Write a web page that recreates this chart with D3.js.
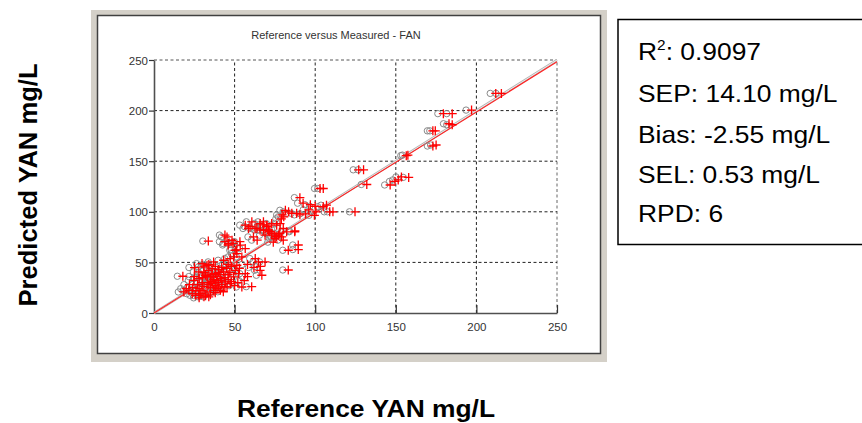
<!DOCTYPE html>
<html>
<head>
<meta charset="utf-8">
<script src="https://cdn.jsdelivr.net/npm/d3@7/dist/d3.min.js"></script>
<style>
  html, body { margin: 0; padding: 0; background: #ffffff; }
  svg { display: block; }
  text { font-family: Arial, "Liberation Sans", sans-serif; }
</style>
</head>
<body>
<svg id="chart" width="862" height="423"></svg>
<script>
// Reference (x) and predicted (y) YAN values, mg/L, one pair per sample
const refValues = [
  212, 215.5, 197, 179.5, 185, 183, 185, 173, 174.5, 173, 175, 156.5, 157.5, 127, 130, 132,
  146.5, 149.5, 151.5, 153.5, 158,
  103, 105, 90.5, 92.5, 97, 100, 107, 105, 100.5, 109, 111, 124.7, 99.5, 81.5, 83.5, 85.5,
  88.5, 90.5, 79.5, 80.5, 79, 87.3, 87.4, 83.3, 89.5, 89.5, 83.3, 94, 96,
  59.6, 62.7, 65.8, 67.8, 69.8, 70.8, 71.8, 72.9, 74.9, 76, 78, 80.2, 58.6, 61.7, 63.8, 65.8,
  67.9, 70, 71, 73, 75.1, 77.2, 79.2, 80.2, 82.3, 76.1, 73, 78.2, 67.9, 68.9, 60.7, 56.6, 64, 74,
  45.3, 48.4, 53.5, 46.3, 50.4, 56.6, 53.3, 49.1, 46, 44, 33.7, 51.3, 44,
  49.4, 47.3, 54.5, 62.8, 64.8, 65.8, 66.9, 56.6, 51.4, 43.2, 68.9, 60.6, 62, 58, 66,
  17.9, 18.5, 21.6, 23.7, 25.7, 27.8, 25.1, 27.8, 24.7, 30.9, 31.9, 34, 35, 36, 38.1, 39.1,
  40.1, 41.2, 43.2, 44.2, 45.3, 47.3, 49.4, 50.4, 51.4, 52.5, 54.5, 37, 32.9, 29.8, 41.2, 36,
  32.9, 29.8, 37,
  33, 35, 38, 40, 42, 44, 46, 39, 37, 34, 31, 28, 26, 30, 28, 36, 40, 42, 45, 48, 38, 43, 35,
  32, 29, 24, 22, 20, 27, 33, 41, 46, 48, 50, 52, 38, 34, 31, 39, 44, 36, 42, 47, 53, 56, 58,
  40, 46, 25, 30, 28, 31, 34
];
const predValues = [
  217, 217, 200.5, 197, 197, 187, 186, 180, 180, 165, 166, 155.5, 156, 141.5, 141.5, 127,
  126.5, 130, 131.5, 134.5, 134,
  123, 123, 114, 108.5, 107, 105.5, 106.5, 105, 100, 100, 100, 100, 96.5, 101.5, 100, 98.5,
  98.5, 97, 97, 95, 93, 80.3, 81.2, 62, 62.7, 67.2, 42.5, 98, 102,
  85.3, 83.6, 82, 87, 85.3, 82, 80.3, 78.7, 77, 75.4, 78.7, 72, 83.5, 75.2, 83.5, 88.4,
  90.1, 86.8, 81.8, 78.5, 73.6, 76.9, 75.2, 83.5, 80.2, 86.8, 88.4, 88.4, 81.8, 76.9, 90.1, 86.8, 72, 70,
  75.2, 71.9, 67, 68.6, 62, 63.7, 70.5, 68.8, 67.2, 70.5, 71.1, 62.3, 77,
  55.4, 53.8, 55.4, 53.8, 50.5, 42.2, 37.3, 38.9, 58.7, 52.1, 50.5, 26, 45, 48, 46,
  36.3, 20.8, 22.4, 19.1, 17.5, 17.5, 44.9, 40.6, 32.3, 45.5, 37.3, 42.2, 35.6, 29, 38.9, 32.3,
  25.7, 22.4, 40.6, 30.7, 25.7, 29, 35.6, 42.2, 47.2, 38.9, 25.7, 22.4, 20.8, 22.4, 34, 43.9,
  47.2, 48.8, 50.5,
  30, 25, 27, 30, 28, 35, 33, 36, 33, 28, 26, 24, 22, 30, 34, 38, 40, 45, 44, 46, 20, 21, 18,
  17, 19, 25, 28, 24, 28, 36, 38, 38, 31, 27, 30, 46, 48, 40, 24, 26, 31, 32, 40, 44, 32, 36,
  43, 48, 36, 35, 15, 16, 16
];

// Axis tick values and the summary statistics shown beside the plot
const tickValues = [0, 50, 100, 150, 200, 250];
const gridValues = [50, 100, 150, 200, 250];
const identityLine = [[0, 0], [250, 250]];
const regressionLine = [[0, 0], [250, 248.3]];
const statLines = [
  { label: "R", sup: "2", value: ": 0.9097" },
  { label: "SEP: 14.10 mg/L" },
  { label: "Bias: -2.55 mg/L" },
  { label: "SEL: 0.53 mg/L" },
  { label: "RPD: 6" }
];
const chartTitle = "Reference versus Measured - FAN";
const xTitle = "Reference YAN mg/L";
const yTitle = "Predicted YAN mg/L";

const svg = d3.select("#chart");

// Window-style plot panel: grey frame with a sunken white canvas
svg.append("rect").attr("x", 91).attr("y", 10).attr("width", 516).attr("height", 352)
  .attr("fill", "#d4d0c8");
svg.append("rect").attr("x", 97.5).attr("y", 15.5).attr("width", 503).attr("height", 338)
  .attr("fill", "#ffffff").attr("stroke", "#404040").attr("stroke-width", 1.5);

svg.append("text").attr("x", 336).attr("y", 38.5).attr("text-anchor", "middle")
  .attr("font-size", 11).attr("fill", "#333").text(chartTitle);

const x = d3.scaleLinear().domain([0, 250]).range([154, 557]);
const y = d3.scaleLinear().domain([0, 250]).range([313, 60]);

// Dashed grid
const grid = svg.append("g").attr("stroke", "#222").attr("stroke-width", 1)
  .attr("stroke-dasharray", "3,2.5").attr("fill", "none");
grid.selectAll("line.v").data(gridValues).join("line").attr("class", "v")
  .attr("x1", d => x(d)).attr("x2", d => x(d)).attr("y1", y(0)).attr("y2", y(250))
  .attr("stroke", d => d === 250 ? "#666" : "#222");
grid.selectAll("line.h").data(gridValues).join("line").attr("class", "h")
  .attr("y1", d => y(d)).attr("y2", d => y(d)).attr("x1", x(0)).attr("x2", x(250))
  .attr("stroke", d => d === 250 ? "#555" : "#222");

// Axes
const xAxis = svg.append("g").attr("transform", `translate(0,${y(0)})`)
  .call(d3.axisBottom(x).tickValues(tickValues).tickSize(-8).tickSizeOuter(0).tickPadding(10));
const yAxis = svg.append("g").attr("transform", `translate(${x(0)},0)`)
  .call(d3.axisLeft(y).tickValues(tickValues).tickSize(5).tickSizeOuter(0).tickPadding(1));
[xAxis, yAxis].forEach(g => {
  g.select(".domain").attr("stroke", "#505050").attr("stroke-width", 1.6);
  g.selectAll(".tick line").attr("stroke", "#333").attr("stroke-width", 1.2);
  g.selectAll(".tick text").attr("font-size", 11.5).attr("fill", "#333")
    .attr("font-family", "Arial, 'Liberation Sans', sans-serif");
});
xAxis.selectAll(".tick").filter(d => d === 0).select("line").remove();
yAxis.selectAll(".tick text").attr("dy", "0.35em");

// 1:1 line (light double stroke) and fitted line
const line = d3.line().x(d => x(d[0])).y(d => y(d[1]));
svg.append("path").datum(identityLine).attr("d", line)
  .attr("stroke", "#b4b4b4").attr("stroke-width", 2.6).attr("fill", "none");
svg.append("path").datum(identityLine).attr("d", line)
  .attr("stroke", "#f0f0f0").attr("stroke-width", 0.9).attr("fill", "none");
svg.append("path").datum(regressionLine).attr("d", line)
  .attr("stroke", "#ff2020").attr("stroke-width", 1.1).attr("fill", "none");

// Samples: grey ring beside a red cross
const points = refValues.map((r, i) => ({ ref: r, pred: predValues[i] }));
const marks = svg.append("g");
marks.selectAll("circle").data(points).join("circle")
  .attr("cx", d => x(d.ref) - 5.5).attr("cy", d => y(d.pred)).attr("r", 3.2)
  .attr("fill", "none").attr("stroke", "#8a8a8a").attr("stroke-width", 1);
marks.selectAll("path").data(points).join("path")
  .attr("transform", d => `translate(${x(d.ref)},${y(d.pred)})`)
  .attr("d", "M-4.5,0H4.5M0,-4.5V4.5")
  .attr("stroke", "#ff0000").attr("stroke-width", 1.3).attr("fill", "none");

// Axis titles
svg.append("text").attr("transform", "translate(366,416.5) scale(1.1,1)")
  .attr("text-anchor", "middle").attr("font-size", 24).attr("font-weight", "bold")
  .attr("fill", "#000").text(xTitle);
svg.append("text").attr("transform", "translate(37,185) rotate(-90) scale(1.066,1.1)")
  .attr("text-anchor", "middle").attr("font-size", 24).attr("font-weight", "bold")
  .attr("fill", "#000").text(yTitle);

// Statistics box
svg.append("rect").attr("x", 618).attr("y", 19.5).attr("width", 260).attr("height", 225)
  .attr("fill", "#fff").attr("stroke", "#000").attr("stroke-width", 1.5);
const baselines = [60, 101.5, 142.5, 183, 222];
statLines.forEach((s, i) => {
  const t = svg.append("text").attr("transform", `translate(638,${baselines[i]}) scale(1.1,1)`)
    .attr("font-size", 24).attr("fill", "#000");
  t.append("tspan").text(s.label);
  if (s.sup) {
    t.append("tspan").attr("font-size", 14).attr("dy", -10).text(s.sup);
    t.append("tspan").attr("dy", 10).text(s.value);
  }
});
</script>
</body>
</html>
